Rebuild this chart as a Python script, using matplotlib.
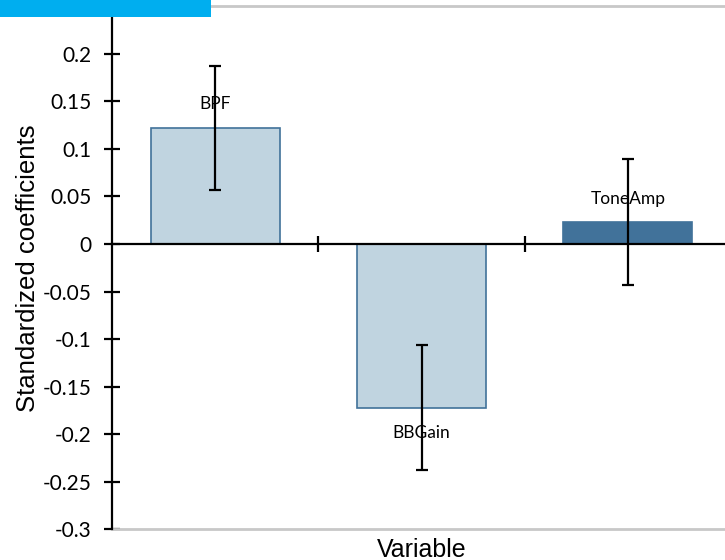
import matplotlib
matplotlib.use("Agg")
import matplotlib.pyplot as plt
from matplotlib.patches import Rectangle
import numpy as np

variables = ["BPF", "BBGain", "ToneAmp"]
coefficients = [0.122, -0.172, 0.023]
errors = [0.065, 0.066, 0.066]
y_ticks = [-0.3, -0.25, -0.2, -0.15, -0.1, -0.05, 0, 0.05, 0.1, 0.15, 0.2]

light_fill = "#c0d4e0"
dark_fill = "#41729a"
edge = "#41729a"
fills = [light_fill, light_fill, dark_fill]

fig = plt.figure(figsize=(7.25, 5.6), dpi=100)
ax = fig.add_axes([0.1545, 0.0548, 0.8538, 0.9341])

x = np.arange(len(variables))
ax.bar(x, coefficients, width=0.625, color=fills, edgecolor=edge, linewidth=1.2, zorder=2)
ax.errorbar(x, coefficients, yerr=errors, fmt="none", ecolor="black",
            elinewidth=1.6, capsize=4, capthick=1.6, zorder=4)

for xi, val, name in zip(x, coefficients, variables):
    off = 17 if val >= 0 else -18
    ax.annotate(name, (xi, val), xytext=(0, off), textcoords="offset points",
                ha="center", va="center", fontsize=12.5, family="Lato", zorder=3)

ax.set_xlim(-0.5, 2.5)
ax.set_ylim(-0.3, 0.25)

# category axis crossing at zero
ax.spines["bottom"].set_position(("data", 0))
ax.spines["bottom"].set_color("black")
ax.spines["bottom"].set_linewidth(1.6)
ax.spines["bottom"].set_zorder(3)
ax.set_xticks(x[:-1] + 0.5)
ax.set_xticklabels([])
ax.tick_params(axis="x", direction="inout", length=12, width=1.6, color="black")

ax.axhline(-0.3, color="#c8c8c8", linewidth=2, clip_on=False)
ax.spines["top"].set_color("#c8c8c8")
ax.spines["top"].set_linewidth(2)
ax.spines["right"].set_visible(False)
ax.spines["left"].set_color("black")
ax.spines["left"].set_linewidth(1.6)

ax.set_yticks(y_ticks)
ax.set_yticklabels([f"{v:g}" for v in y_ticks], family="Lato", fontsize=15)
ax.tick_params(axis="y", direction="inout", length=12, width=1.6, pad=9)

ax.set_ylabel("Standardized coefficients", family="Liberation Sans", fontsize=18.5, labelpad=2)
ax.set_xlabel("Variable", family="Liberation Sans", fontsize=18)
ax.xaxis.set_label_coords(0.5, -0.016)

# banner strip at the top-left corner
fig.patches.append(Rectangle((0, 1 - 17 / 560), 211 / 725, 17 / 560,
                             transform=fig.transFigure, facecolor="#00aeef",
                             edgecolor="none", zorder=10))

fig.savefig("out.png", dpi=100)
